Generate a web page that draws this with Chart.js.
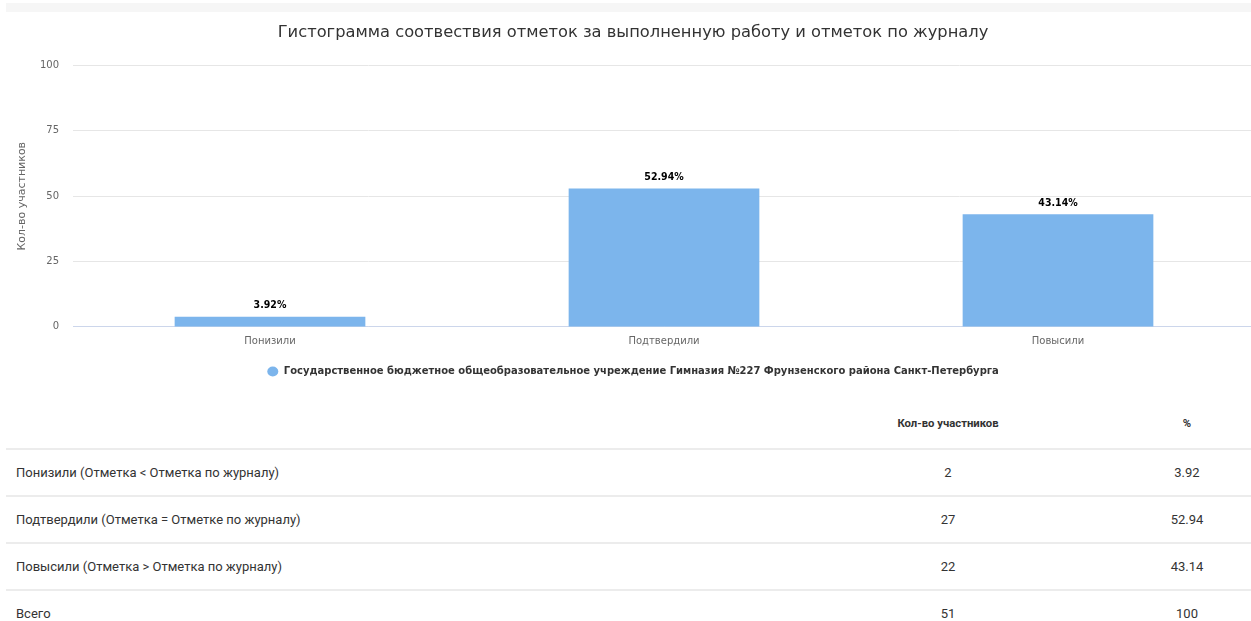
<!DOCTYPE html>
<html>
<head>
<meta charset="utf-8">
<script src="https://cdn.jsdelivr.net/npm/chart.js@4.4.1/dist/chart.umd.min.js"></script>
<style>
  body { margin: 0; background: #fff; width: 1251px; height: 621px; overflow: hidden; position: relative; }
  #topbar { position: absolute; left: 6px; top: 3px; width: 1245px; height: 9px; background: #f6f6f6; }
  #wrap { position: absolute; left: 0; top: 0; width: 1266px; height: 395px; }
  table { position: absolute; left: 6px; top: 398px; width: 1245px; border-collapse: collapse;
          font-family: Roboto, sans-serif; color: #333; }
  td, th { height: 45px; padding: 0; border-top: 2px solid #ececec; font-size: 13px; }
  th { border-top: none; height: 50px; font-size: 11.3px; font-weight: bold; }
  td.name { padding-left: 10px; text-align: left; }
  td.num, th.num { text-align: center; }
</style>
</head>
<body>
<div id="topbar"></div>
<div id="wrap"><canvas id="grafico"></canvas></div>
<table id="tabla">
  <colgroup><col style="width:767px"><col style="width:350px"><col style="width:128px"></colgroup>
  <thead><tr><th></th><th class="num">Кол-во участников</th><th class="num">%</th></tr></thead>
  <tbody></tbody>
</table>
<script>
const categories = ["Понизили", "Подтвердили", "Повысили"];
const percents = [3.92, 52.94, 43.14];
const counts = [2, 27, 22];
const rowLabels = [
  "Понизили (Отметка < Отметка по журналу)",
  "Подтвердили (Отметка = Отметке по журналу)",
  "Повысили (Отметка > Отметка по журналу)"
];
const totalLabel = "Всего";
const totalCount = 51;
const totalPercent = 100;
const yTicks = [0, 25, 50, 75, 100];
const seriesName = "Государственное бюджетное общеобразовательное учреждение Гимназия №227 Фрунзенского района Санкт-Петербурга";

function fillTable() {
  const body = document.querySelector("#tabla tbody");
  const rows = rowLabels.map((l, i) => [l, counts[i], percents[i]]);
  rows.push([totalLabel, totalCount, totalPercent]);
  rows.forEach(r => {
    const tr = document.createElement("tr");
    tr.innerHTML = `<td class="name">${r[0].replace("<", "&lt;").replace(">", "&gt;")}</td><td class="num">${r[1]}</td><td class="num">${r[2]}</td>`;
    body.appendChild(tr);
  });
}

const barLabels = {
  id: "barLabels",
  afterDatasetsDraw(chart) {
    const ctx = chart.ctx;
    const meta = chart.getDatasetMeta(0);
    ctx.save();
    ctx.font = "bold 10.5px 'DejaVu Sans Condensed', 'DejaVu Sans'";
    ctx.fillStyle = "#000";
    ctx.textAlign = "center";
    ctx.textBaseline = "middle";
    meta.data.forEach((bar, i) => {
      ctx.fillText(percents[i].toFixed(2) + "%", bar.x, bar.y - 11);
    });
    ctx.restore();
  }
};

function renderChart() {
  new Chart(document.getElementById("grafico"), {
    type: "bar",
    data: {
      labels: categories,
      datasets: [{
        label: seriesName,
        data: percents,
        backgroundColor: "#7cb5ec",
        borderWidth: 0,
        categoryPercentage: 1,
        barPercentage: 0.484,
      }]
    },
    options: {
      responsive: true,
      maintainAspectRatio: false,
      animation: false,
      layout: { padding: { left: 11, right: 11, top: 0, bottom: 8 } },
      plugins: {
        title: {
          display: true,
          text: "Гистограмма соотвествия отметок за выполненную работу и отметок по журналу",
          color: "#333333",
          font: { family: "'DejaVu Sans'", size: 16.3, weight: "normal" },
          padding: { top: 23, bottom: 23 }
        },
        legend: {
          display: true,
          position: "bottom",
          labels: {
            color: "#333333",
            font: { family: "'DejaVu Sans Condensed', 'DejaVu Sans'", size: 11.1, weight: "bold" },
            usePointStyle: true,
            pointStyle: "circle",
            pointStyleWidth: 11,
            boxWidth: 7,
            boxHeight: 7,
            padding: 17
          }
        },
        tooltip: { enabled: false }
      },
      scales: {
        x: {
          grid: { display: false },
          border: { color: "#ccd6eb", width: 1 },
          ticks: {
            color: "#666666",
            padding: 1,
            font: { family: "'DejaVu Sans'", size: 10 }
          }
        },
        y: {
          min: 0,
          max: 100,
          afterBuildTicks(axis) {
            axis.ticks = yTicks.map(v => ({ value: v }));
          },
          afterFit(axis) {
            axis.width = 62;
          },
          grid: { color: "#e6e6e6", drawTicks: false },
          border: { display: false },
          ticks: {
            color: "#666666",
            padding: 14,
            font: { family: "'DejaVu Sans'", size: 10 }
          },
          title: {
            display: true,
            text: "Кол-во участников",
            color: "#666666",
            font: { family: "'DejaVu Sans'", size: 11 },
            padding: { top: 5, bottom: 0 }
          }
        }
      }
    },
    plugins: [barLabels]
  });
}

fillTable();
renderChart();
</script>
</body>
</html>
